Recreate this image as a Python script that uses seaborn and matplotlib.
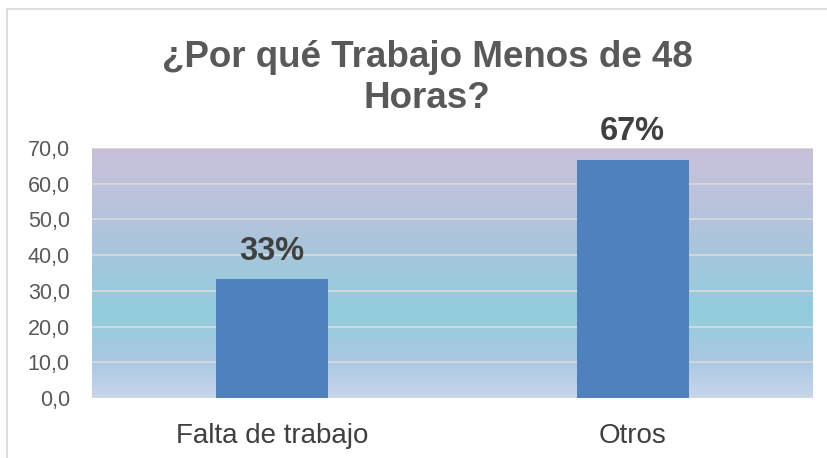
import numpy as np
import pandas as pd
import matplotlib
matplotlib.use("Agg")
import matplotlib.pyplot as plt
import seaborn as sns
from matplotlib.colors import LinearSegmentedColormap
from matplotlib.lines import Line2D

categories = ["Falta de trabajo", "Otros"]
values = [33.3, 66.7]
value_labels = ["33%", "67%"]
yticks = [0, 10, 20, 30, 40, 50, 60, 70]
ytick_labels = ["0,0", "10,0", "20,0", "30,0", "40,0", "50,0", "60,0", "70,0"]
title = "¿Por qué Trabajo Menos de 48\nHoras?"

sns.set_theme(style="white")
plt.rcParams['font.family'] = ['Liberation Sans', 'DejaVu Sans']

W, H = 828, 458
fig = plt.figure(figsize=(W / 100, H / 100), dpi=100)
ax = fig.add_axes([92 / W, 1 - 398 / H, (813 - 92) / W, (398 - 148) / H])

df = pd.DataFrame({"cat": categories, "val": values})
sns.barplot(data=df, x="cat", y="val", color="#4F81BD", width=0.31, saturation=1,
            linewidth=0, ax=ax, zorder=3)

# gradient background
cmap = LinearSegmentedColormap.from_list("bg", [
    (0.0, "#C7D6EC"), (0.15, "#AAC8E2"), (0.35, "#92CDDD"),
    (0.6, "#A9C5DB"), (0.8, "#BCC3DD"), (1.0, "#C9C0DA")])
grad = np.linspace(0, 1, 256).reshape(-1, 1)
ax.imshow(grad, cmap=cmap, aspect="auto", origin="lower",
          extent=[0, 1, 0, 1], transform=ax.transAxes, zorder=0)

ax.set_xlim(-0.5, 1.5)
ax.set_ylim(0, 70)
ax.set_yticks(yticks)
ax.set_yticklabels(ytick_labels)
for y in yticks:
    ax.axhline(y, color="#D9D9D9", lw=1.3, zorder=1)
for s in ax.spines.values():
    s.set_visible(False)
ax.set_xlabel("")
ax.set_ylabel("")
ax.tick_params(axis="y", labelsize=15.5, labelcolor="#595959", length=0, pad=16)
ax.tick_params(axis="x", labelsize=20, labelcolor="#404040", length=0, pad=18)

for i, (v, lab) in enumerate(zip(values, value_labels)):
    ax.annotate(lab, (i, v), xytext=(0, 9), textcoords="offset points",
                ha="center", va="bottom", fontsize=23.5, fontweight="bold",
                color="#404040", zorder=4)

fig.text(427 / W, 1 - 78 / H, title, ha="center", va="center", fontsize=26.5,
         fontweight="bold", color="#595959", linespacing=1.2)

# chart border (top and left visible)
fig.add_artist(Line2D([7 / W, 1], [1 - 9 / H, 1 - 9 / H], color="#D9D9D9", lw=1.2, transform=fig.transFigure))
fig.add_artist(Line2D([7 / W, 7 / W], [0, 1 - 9 / H], color="#D9D9D9", lw=1.2, transform=fig.transFigure))

fig.savefig("out.png", dpi=100)
